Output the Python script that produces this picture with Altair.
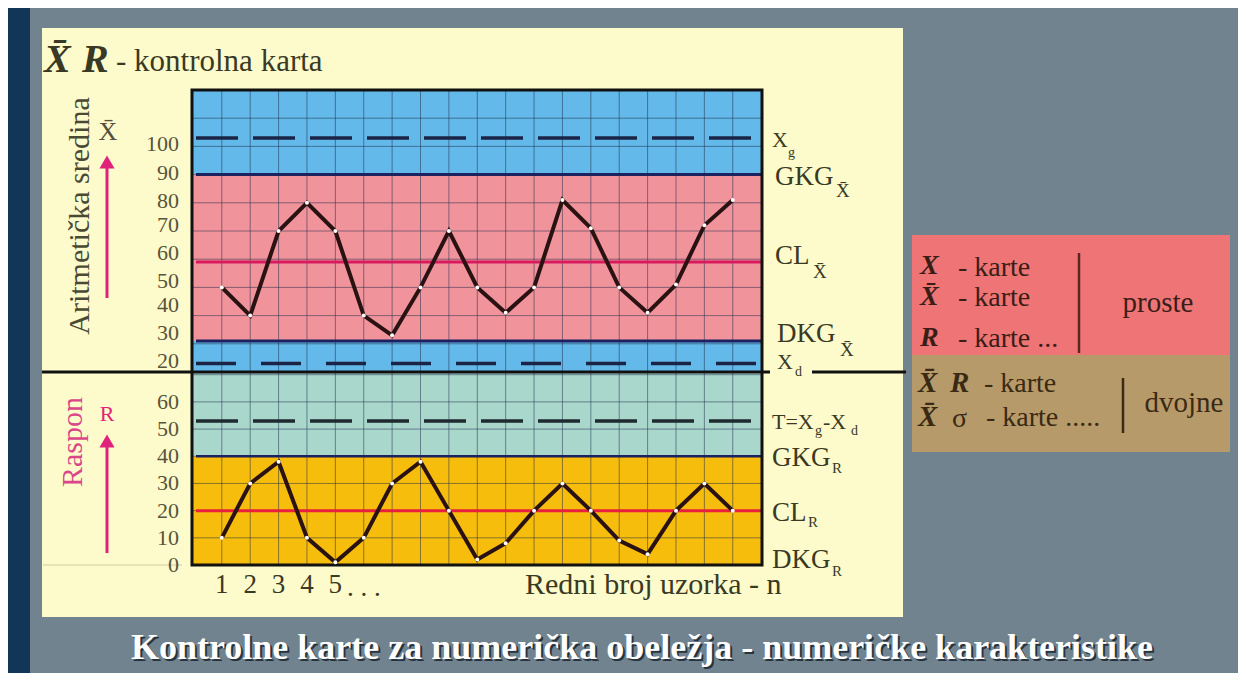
import altair as alt
import pandas as pd

# ---------------- data ----------------
samples = list(range(1, 20))
xbar_values = [50, 40, 70, 80, 70, 40, 33, 50, 70, 50, 41, 50, 81, 71, 50, 41, 51, 72, 81]
range_values = [10, 30, 38, 10, 1, 10, 30, 38, 20, 2, 8, 20, 30, 20, 9, 4, 20, 30, 20]

# tick labels of the upper chart, grouped by how they sit against their value
upper_ticks_mid = [80, 90, 100]
upper_ticks_base = [50, 60, 70]
upper_ticks_bottom = [20, 30, 40]
lower_ticks = [0, 10, 20, 30, 40, 50, 60]
x_tick_labels = [1, 2, 3, 4, 5]

upper_grid = [30, 40, 50, 60, 70, 80, 90, 100, 110]
lower_grid = [10, 20, 30, 40, 50, 60, 70]
x_grid = list(range(1, 20))

# limits: upper chart (X-bar)
Xg, GKG_x, CL_x, DKG_x, Xd = 103, 90, 59, 31, 23
# limits: lower chart (R)
T_r, GKG_r, CL_r = 53, 40, 20

upper_band_lo = [GKG_x, DKG_x, 20]
upper_band_hi = [120, GKG_x, DKG_x]
upper_band_col = ["#63b9e9", "#f0939b", "#63b9e9"]
lower_band_lo = [GKG_r, 0]
lower_band_hi = [71, GKG_r]
lower_band_col = ["#a9d7cb", "#f7bd0c"]

# ---------------- layout constants ----------------
W, H = 570, 475
HU = 282
PX0, PY0 = 192, 90
SERIF = "Liberation Serif"
BG = "#71838f"
TXT = "#3a3924"
TICK = "#575439"
MAG = "#e0237a"
NAVY = "#1c2260"
DASH = "#1b2446"

xs = alt.Scale(domain=[-0.05, 20.03], nice=False, zero=False)
yu = alt.Scale(domain=[20, 120], range=[HU, 0], nice=False, zero=False)
yl = alt.Scale(domain=[0, 71], range=[H, HU], nice=False, zero=False)

ONE = pd.DataFrame({"k": [0]})


def T(s, x, y, size, color=TXT, align="left", baseline="middle", bold=False,
      italic=False, angle=0):
    kw = dict(text=s, font=SERIF, fontSize=size, color=color, align=align,
              baseline=baseline)
    if bold:
        kw["fontWeight"] = "bold"
    if italic:
        kw["fontStyle"] = "italic"
    if angle:
        kw["angle"] = angle
    return alt.Chart(ONE).mark_text(**kw).encode(x=alt.value(x - PX0), y=alt.value(y - PY0))


def R(x1, y1, x2, y2, color):
    return alt.Chart(ONE).mark_rect(color=color).encode(
        x=alt.value(x1 - PX0), x2=alt.value(x2 - PX0),
        y=alt.value(y1 - PY0), y2=alt.value(y2 - PY0))


def L(x1, y1, x2, y2, color, width):
    return alt.Chart(ONE).mark_rule(color=color, strokeWidth=width).encode(
        x=alt.value(x1 - PX0), x2=alt.value(x2 - PX0),
        y=alt.value(y1 - PY0), y2=alt.value(y2 - PY0))


def arrow_head(x, y):
    return alt.Chart(ONE).mark_point(shape="triangle-up", filled=True, color=MAG,
                                     size=230, opacity=1).encode(
        x=alt.value(x - PX0), y=alt.value(y - PY0))


layers = []

# ---------------- decoration ----------------
layers += [
    R(8, 8, 1238, 673, BG),
    R(8, 8, 30, 673, "#123657"),
    R(42, 28, 903, 617, "#fdfbcc"),
    R(912, 235, 1230, 355, "#ee7476"),
    R(912, 355, 1230, 452, "#b79a69"),
]

# ---------------- bands ----------------
ub = pd.DataFrame({"lo": upper_band_lo, "hi": upper_band_hi, "c": upper_band_col})
lb = pd.DataFrame({"lo": lower_band_lo, "hi": lower_band_hi, "c": lower_band_col})
layers.append(alt.Chart(ub).mark_rect().encode(
    x=alt.value(0), x2=alt.value(W),
    y=alt.Y("hi:Q", scale=yu, axis=None), y2="lo:Q",
    color=alt.Color("c:N", scale=None)))
layers.append(alt.Chart(lb).mark_rect().encode(
    x=alt.value(0), x2=alt.value(W),
    y=alt.Y("hi:Q", scale=yl, axis=None), y2="lo:Q",
    color=alt.Color("c:N", scale=None)))

# ---------------- grid ----------------
GRIDC = "#1b2a48"
layers.append(alt.Chart(pd.DataFrame({"g": x_grid})).mark_rule(
    color=GRIDC, strokeWidth=1, opacity=0.5).encode(
    x=alt.X("g:Q", scale=xs, axis=None), y=alt.value(0), y2=alt.value(H)))
layers.append(alt.Chart(pd.DataFrame({"g": upper_grid})).mark_rule(
    color=GRIDC, strokeWidth=1, opacity=0.5).encode(
    y=alt.Y("g:Q", scale=yu, axis=None), x=alt.value(0), x2=alt.value(W)))
layers.append(alt.Chart(pd.DataFrame({"g": lower_grid})).mark_rule(
    color=GRIDC, strokeWidth=1, opacity=0.5).encode(
    y=alt.Y("g:Q", scale=yl, axis=None), x=alt.value(0), x2=alt.value(W)))

# ---------------- limit lines ----------------
def hline(val, scale, color, width, dash=None):
    kw = dict(color=color, strokeWidth=width)
    if dash:
        kw["strokeDash"] = dash
    return alt.Chart(pd.DataFrame({"v": [val]})).mark_rule(**kw).encode(
        y=alt.Y("v:Q", scale=scale, axis=None), x=alt.value(4), x2=alt.value(W))

layers += [
    hline(GKG_x, yu, NAVY, 3),
    hline(DKG_x, yu, NAVY, 3),
    hline(CL_x, yu, "#d81a5e", 3),
    hline(Xg, yu, DASH, 3.5, [42, 15]),
    hline(Xd, yu, DASH, 3.5, [40, 25]),
    hline(GKG_r, yl, NAVY, 2.5),
    hline(CL_r, yl, "#e8203c", 3),
    hline(T_r, yl, "#1e2a30", 3.5, [42, 15]),
]

# border + divider
layers.append(alt.Chart(ONE).mark_rect(filled=False, stroke="#111111", strokeWidth=3).encode(
    x=alt.value(0), x2=alt.value(W), y=alt.value(0), y2=alt.value(H)))
layers += [
    L(42, 372, 770, 372, "#111111", 3),
    L(812, 372, 906, 372, "#111111", 3),
    L(43, 565, 182, 565, "#cfc9a8", 1),
]

# ---------------- data series ----------------
du = pd.DataFrame({"n": samples, "v": xbar_values})
dl = pd.DataFrame({"n": samples, "r": range_values})
layers.append(alt.Chart(du).mark_line(color="#2a1212", strokeWidth=4).encode(
    x=alt.X("n:Q", scale=xs, axis=None), y=alt.Y("v:Q", scale=yu, axis=None)))
layers.append(alt.Chart(du).mark_point(filled=True, color="white", size=16, opacity=1).encode(
    x=alt.X("n:Q", scale=xs, axis=None), y=alt.Y("v:Q", scale=yu, axis=None)))
layers.append(alt.Chart(dl).mark_line(color="#2a1212", strokeWidth=4).encode(
    x=alt.X("n:Q", scale=xs, axis=None), y=alt.Y("r:Q", scale=yl, axis=None)))
layers.append(alt.Chart(dl).mark_point(filled=True, color="white", size=16, opacity=1).encode(
    x=alt.X("n:Q", scale=xs, axis=None), y=alt.Y("r:Q", scale=yl, axis=None)))

# ---------------- tick labels ----------------
def upper_labels(vals, baseline, dy):
    return alt.Chart(pd.DataFrame({"t": vals})).mark_text(
        font=SERIF, fontSize=22, color=TICK, align="right", baseline=baseline, dy=dy).encode(
        y=alt.Y("t:Q", scale=yu, axis=None), x=alt.value(-13), text="t:Q")

layers += [
    upper_labels(upper_ticks_mid, "middle", -2),
    upper_labels(upper_ticks_base, "alphabetic", 1),
    upper_labels(upper_ticks_bottom, "bottom", 1),
]
layers.append(alt.Chart(pd.DataFrame({"t": lower_ticks})).mark_text(
    font=SERIF, fontSize=22, color=TICK, align="right", baseline="middle").encode(
    y=alt.Y("t:Q", scale=yl, axis=None), x=alt.value(-13), text="t:Q"))
layers.append(alt.Chart(pd.DataFrame({"t": x_tick_labels})).mark_text(
    font=SERIF, fontSize=27, color=TXT, align="center", baseline="middle").encode(
    x=alt.X("t:Q", scale=xs, axis=None), y=alt.value(585 - PY0), text="t:Q"))

# ---------------- texts ----------------
XB = "X\u0304"
BOX1 = "#3a1e16"
BOX2 = "#3a2a14"
layers += [
    # title
    T(XB, 44, 72, 40, TXT, baseline="alphabetic", bold=True, italic=True),
    T("R", 82, 72, 40, TXT, baseline="alphabetic", bold=True, italic=True),
    T("- kontrolna karta", 116, 71, 31, TXT, baseline="alphabetic"),
    # left axis titles
    T("Aritmetička sredina", 80, 216, 30, "#4a4933", align="center", angle=270),
    T(XB, 108, 132, 26, "#555040", align="center"),
    L(107, 165, 107, 298, MAG, 3),
    arrow_head(107, 162),
    T("Raspon", 73, 442, 30, "#d9478a", align="center", angle=270),
    T("R", 107, 414, 22, MAG, align="center"),
    L(107, 445, 107, 553, MAG, 3),
    arrow_head(107, 441),
    # x-axis texts
    T(". . .", 347, 588, 27, TXT),
    T("Redni broj uzorka - n", 525, 585, 30, TXT),
    # right labels, upper
    T("X", 772, 140, 22, TXT),
    T("g", 788, 153, 14, TXT),
    T("GKG", 775, 177, 27, TXT),
    T(XB, 836, 191, 19, TXT),
    T("CL", 775, 256, 27, TXT),
    T(XB, 813, 272, 19, TXT),
    T("DKG", 777, 334, 27, TXT),
    T(XB, 840, 350, 19, TXT),
    T("X", 777, 362, 22, TXT),
    T("d", 795, 372, 14, TXT),
    # right labels, lower
    T("T=X", 772, 422, 22, TXT),
    T("g", 815, 431, 14, TXT),
    T("-X", 823, 422, 22, TXT),
    T("d", 851, 431, 14, TXT),
    T("GKG", 772, 458, 27, TXT),
    T("R", 832, 468, 15, TXT),
    T("CL", 772, 513, 27, TXT),
    T("R", 808, 522, 15, TXT),
    T("DKG", 772, 560, 27, TXT),
    T("R", 832, 571, 15, TXT),
    # right box
    T("X", 920, 266, 28, BOX1, bold=True, italic=True),
    T("- karte", 958, 268, 28, BOX1),
    T(XB, 920, 297, 28, BOX1, bold=True, italic=True),
    T("- karte", 958, 298, 28, BOX1),
    T("R", 920, 338, 28, BOX1, bold=True, italic=True),
    T("- karte ...", 958, 339, 28, BOX1),
    L(1079, 253, 1079, 353, "#5c2525", 2.5),
    T("proste", 1158, 303, 29, BOX1, align="center"),
    T(XB, 918, 383, 29, BOX2, bold=True, italic=True),
    T("R", 950, 383, 29, BOX2, bold=True, italic=True),
    T("- karte", 984, 384, 28, BOX2),
    T(XB, 918, 417, 29, BOX2, bold=True, italic=True),
    T("σ", 952, 419, 28, BOX2),
    T("- karte .....", 986, 418, 28, BOX2),
    L(1123, 378, 1123, 433, BOX2, 2.5),
    T("dvojne", 1184, 403, 29, BOX2, align="center"),
    # caption
    T("Kontrolne karte za numerička obeležja - numeričke karakteristike", 644, 650, 36,
      "#27333d", align="center", bold=True),
    T("Kontrolne karte za numerička obeležja - numeričke karakteristike", 642, 648, 36,
      "#ffffff", align="center", bold=True),
]

chart = alt.layer(*layers).resolve_scale(y="independent").properties(
    width=W, height=H, padding=0, background=BG
).configure_view(stroke=None)

chart.save("out.html", embed_options={"renderer": "svg", "actions": False})
